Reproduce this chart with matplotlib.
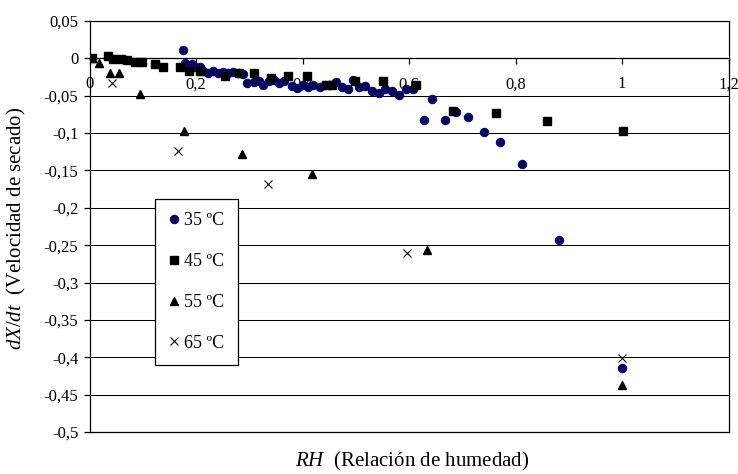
import matplotlib
matplotlib.use("Agg")
import matplotlib.pyplot as plt
from matplotlib.ticker import MultipleLocator, FuncFormatter

plt.rcParams['font.family'] = ['Liberation Serif', 'DejaVu Serif']
plt.rcParams['mathtext.fontset'] = 'custom'
plt.rcParams['mathtext.it'] = 'Liberation Serif:italic'
plt.rcParams['mathtext.rm'] = 'Liberation Serif'

# 35 ºC
x35 = [0.176, 0.179, 0.192, 0.198, 0.208, 0.214, 0.223, 0.232, 0.242, 0.251, 0.261, 0.270,
       0.279, 0.288, 0.296, 0.308, 0.319, 0.326, 0.338, 0.346, 0.356, 0.365, 0.380, 0.390,
       0.400, 0.411, 0.420, 0.433, 0.442, 0.452, 0.463, 0.474, 0.486, 0.494, 0.507, 0.517,
       0.530, 0.543, 0.555, 0.568, 0.581, 0.594, 0.607, 0.629, 0.644, 0.668, 0.688, 0.711,
       0.740, 0.771, 0.812, 0.881, 1.000]
y35 = [0.011, -0.006, -0.008, -0.012, -0.012, -0.017, -0.019, -0.017, -0.019, -0.018, -0.019, -0.018,
       -0.019, -0.021, -0.033, -0.032, -0.030, -0.035, -0.030, -0.029, -0.033, -0.030, -0.037, -0.039,
       -0.036, -0.038, -0.036, -0.038, -0.035, -0.035, -0.032, -0.038, -0.041, -0.029, -0.038, -0.037,
       -0.044, -0.047, -0.041, -0.044, -0.049, -0.041, -0.041, -0.082, -0.054, -0.082, -0.072, -0.079,
       -0.099, -0.112, -0.141, -0.243, -0.415]

# 45 ºC
x45 = [0.004, 0.035, 0.045, 0.060, 0.070, 0.085, 0.098, 0.123, 0.138, 0.170, 0.186, 0.208,
       0.254, 0.280, 0.308, 0.340, 0.373, 0.409, 0.445, 0.455, 0.499, 0.552, 0.614, 0.682,
       0.763, 0.860, 1.002]
y45 = [0.000, 0.003, -0.001, -0.001, -0.002, -0.005, -0.005, -0.008, -0.012, -0.012, -0.017, -0.017,
       -0.024, -0.019, -0.019, -0.026, -0.023, -0.023, -0.035, -0.035, -0.030, -0.030, -0.035, -0.070,
       -0.073, -0.084, -0.097]

# 55 ºC
x55 = [0.004, 0.017, 0.038, 0.056, 0.095, 0.177, 0.287, 0.417, 0.633, 1.000]
y55 = [0.001, -0.006, -0.020, -0.019, -0.048, -0.097, -0.128, -0.155, -0.256, -0.437]

# 65 ºC
x65 = [0.005, 0.042, 0.167, 0.336, 0.596, 1.000]
y65 = [0.001, -0.033, -0.124, -0.168, -0.260, -0.401]

labels = ['35 ºC', '45 ºC', '55 ºC', '65 ºC']

fig = plt.figure(figsize=(7.38, 4.74), dpi=100)
ax = fig.add_axes([89.5/738, 1-432/474, (728.5-89.5)/738, (432-21)/474])

ax.set_xlim(0, 1.2)
ax.set_ylim(-0.5, 0.05)
ax.xaxis.set_major_locator(MultipleLocator(0.2))
ax.yaxis.set_major_locator(MultipleLocator(0.05))

def fmt(v, pos):
    if abs(v) < 1e-9:
        return '0'
    s = ('%.2f' % v).rstrip('0').rstrip('.')
    return s.replace('.', ',')

ax.xaxis.set_major_formatter(FuncFormatter(fmt))
ax.yaxis.set_major_formatter(FuncFormatter(fmt))

ax.grid(axis='y', color='black', lw=0.75)
ax.set_axisbelow(True)

ax.spines['bottom'].set_position(('data', 0))
for s in ax.spines.values():
    s.set_linewidth(0.9)
ax.axhline(-0.5, color='black', lw=0.9, clip_on=False, zorder=1)

ax.tick_params(axis='x', direction='out', length=4, width=0.9, pad=9, labelsize=12)
ax.tick_params(axis='y', direction='out', length=4.5, width=0.9, pad=3.5, labelsize=12)

ax.plot(x35, y35, 'o', ms=6, mfc='#0a0a45', mec='#000099', mew=0.8, label=labels[0], zorder=3)
ax.plot(x45, y45, 's', ms=5.2, mfc='black', mec='black', label=labels[1], zorder=3)
ax.plot(x55, y55, '^', ms=5.5, mfc='black', mec='black', label=labels[2], zorder=3)
ax.plot(x65, y65, 'x', ms=6, color='black', mew=0.8, label=labels[3], zorder=3)

leg = ax.legend(loc='upper left', bbox_to_anchor=(155/738, 1-199/474), bbox_transform=fig.transFigure,
                fontsize=13, frameon=True, fancybox=False, borderpad=0.73, labelspacing=1.32,
                handlelength=0.6, handletextpad=0.3, borderaxespad=0, markerscale=1.0)
leg.get_frame().set_edgecolor('black')
leg.get_frame().set_linewidth(0.9)
leg.get_frame().set_alpha(1)

fig.text(16/738, 1-228/474, r'$dX/dt$  (Velocidad de secado)', rotation=90, ha='center', va='center', fontsize=15)
fig.text(412/738, 1-461/474, r'$RH$  (Relación de humedad)', ha='center', va='center', fontsize=15)

fig.savefig('out.png', dpi=100)
